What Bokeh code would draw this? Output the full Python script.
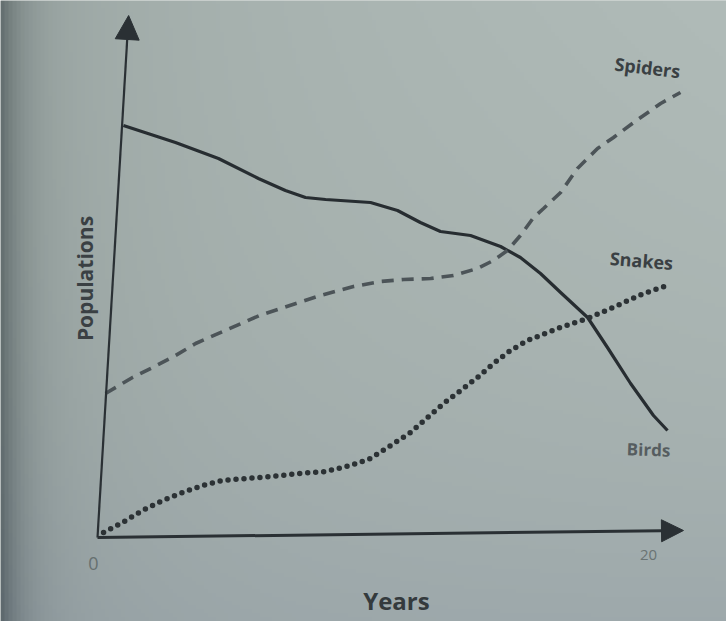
import numpy as np
from bokeh.plotting import figure
from bokeh.models import Range1d, Label, Arrow, NormalHead
from bokeh.embed import file_html
from bokeh.resources import INLINE

# ---- data (arbitrary population units, years 0..20) ----
birds_x = [0.94, 2.83, 4.39, 5.84, 6.82, 7.55, 8.28, 9.91, 10.89, 11.72, 12.45, 13.54,
           14.63, 15.35, 16.08, 16.81, 17.79, 18.51, 19.35, 20.18, 20.69]
birds_y = [82.4, 79.0, 75.8, 71.8, 69.4, 68.0, 67.6, 67.0, 65.4, 63.0, 61.2, 60.4,
           58.2, 56.0, 52.8, 49.0, 44.0, 38.0, 30.8, 24.4, 21.4]

spiders_x = [0.29, 1.27, 2.00, 2.83, 3.56, 5.88, 8.09, 9.29, 10.27, 11.11, 12.09, 12.92,
             13.79, 14.37, 14.88, 15.35, 15.83, 16.19, 16.81, 17.42, 18.15, 18.73,
             19.46, 20.44, 21.16]
spiders_y = [28.8, 32.0, 34.0, 36.4, 38.8, 44.4, 48.4, 50.2, 51.2, 51.6, 51.8, 52.4,
             53.8, 55.4, 57.4, 60.4, 64.0, 65.8, 69.0, 73.8, 77.8, 80.0,
             83.0, 86.8, 89.0]

snakes_x = [0.22, 0.91, 1.63, 2.36, 3.09, 3.81, 4.54, 5.37, 6.35, 7.30, 8.28, 9.18,
            9.91, 10.64, 11.36, 11.98, 12.56, 13.18, 13.79, 14.37, 14.99, 15.61,
            16.70, 17.79, 18.87, 19.82, 20.69]
snakes_y = [1.0, 3.0, 5.4, 7.4, 9.0, 10.4, 11.4, 11.8, 12.2, 12.8, 13.2, 14.4,
            15.8, 18.4, 21.0, 24.0, 26.8, 29.4, 32.0, 34.8, 37.4, 39.4,
            41.8, 43.8, 46.4, 48.8, 50.4]

series_names = ["Birds", "Spiders", "Snakes"]
x_ticks = [0, 20]
x_tick_labels = ["0", "20"]
x_title = "Years"
y_title = "Populations"

# ---- figure ----
W, H = 726, 621
x0, x1 = -3.521, 22.831
y0, y1 = -16.8, 107.4

p = figure(width=W, height=H, output_backend="svg", toolbar_location=None,
           x_range=Range1d(x0, x1), y_range=Range1d(y0, y1),
           x_axis_type=None, y_axis_type=None, min_border=0,
           outline_line_color=None, title=None)
p.background_fill_color = "#a7b1ae"
p.border_fill_color = "#a7b1ae"

# photographed-paper background shading (decorative)
gh, gw = 156, 182
px = np.linspace(0, W, gw)[None, :]
py = np.linspace(H, 0, gh)[:, None]  # row 0 is bottom
base = np.array([166.0, 177.0, 174.0])
dark = 50 * np.exp(-px / 22.0) + 14 * np.exp(-px / 140.0)
light = 10 * (px / W) * (1 - py / H)
bottom = 8 * (py / H) ** 3
r = base[0] - dark + light - bottom
g = base[1] - dark + light - bottom
b = base[2] - dark * 0.95 + light - bottom * 0.3
img = np.empty((gh, gw), dtype=np.uint32)
view = img.view(dtype=np.uint8).reshape((gh, gw, 4))
view[:, :, 0] = np.clip(r, 0, 255).astype(np.uint8)
view[:, :, 1] = np.clip(g, 0, 255).astype(np.uint8)
view[:, :, 2] = np.clip(b, 0, 255).astype(np.uint8)
view[:, :, 3] = 255
p.image_rgba(image=[img], x=x0, y=y0, dw=x1 - x0, dh=y1 - y0)

axis_col = "#2a3034"

# axes drawn as arrows (slightly tilted, as in the photographed figure)
p.add_layout(Arrow(x_start=0, y_start=0, x_end=1.13, y_end=104.4,
                   line_color=axis_col, line_width=2.2,
                   end=NormalHead(size=24, fill_color=axis_col, line_color=axis_col,
                                  line_width=1)))
p.add_layout(Arrow(x_start=0, y_start=0, x_end=21.27, y_end=1.4,
                   line_color=axis_col, line_width=3,
                   end=NormalHead(size=22, fill_color=axis_col, line_color=axis_col,
                                  line_width=1)))

# series
p.line(birds_x, birds_y, line_color="#272d31", line_width=3.2, line_join="round")
p.line(spiders_x, spiders_y, line_color="#4c5458", line_width=3.6,
       line_dash="12 8", line_cap="butt")
p.line(snakes_x, snakes_y, line_color="#2c3235", line_width=5.5,
       line_dash="0 8", line_cap="round")

font = "Open Sans"

# series labels near line ends
p.add_layout(Label(x=spiders_x[-1], y=spiders_y[-1], x_offset=-33, y_offset=25,
                   text=series_names[1], text_font=font, text_font_style="bold",
                   text_font_size="18px", text_color="#3a4043",
                   text_align="center", text_baseline="middle", angle=-0.12))
p.add_layout(Label(x=snakes_x[-1], y=snakes_y[-1], x_offset=-26, y_offset=25,
                   text=series_names[2], text_font=font, text_font_style="bold",
                   text_font_size="18px", text_color="#3a4043",
                   text_align="center", text_baseline="middle", angle=-0.08))
p.add_layout(Label(x=birds_x[-1], y=birds_y[-1], x_offset=-19, y_offset=-19,
                   text=series_names[0], text_font=font, text_font_style="bold",
                   text_font_size="17px", text_color="#565d60",
                   text_align="center", text_baseline="middle", angle=-0.03))

# tick labels
p.add_layout(Label(x=x_ticks[0], y=0, x_offset=-4, y_offset=-26, text=x_tick_labels[0],
                   text_font=font, text_font_size="18px", text_color="#667070",
                   text_align="center", text_baseline="middle"))
p.add_layout(Label(x=x_ticks[1], y=0, x_offset=0, y_offset=-17, text=x_tick_labels[1],
                   text_font=font, text_font_size="15px", text_color="#6a7373",
                   text_align="center", text_baseline="middle"))

# axis titles
p.add_layout(Label(x=10.85, y=-12.6, text=x_title, text_font=font,
                   text_font_style="bold", text_font_size="24px", text_color="#343a3d",
                   text_align="center", text_baseline="middle"))
p.add_layout(Label(x=-0.45, y=51.8, text=y_title, text_font=font,
                   text_font_style="bold", text_font_size="21px", text_color="#3a4043",
                   text_align="center", text_baseline="middle", angle=np.pi / 2))

open("out.html", "w").write(file_html(p, INLINE))
